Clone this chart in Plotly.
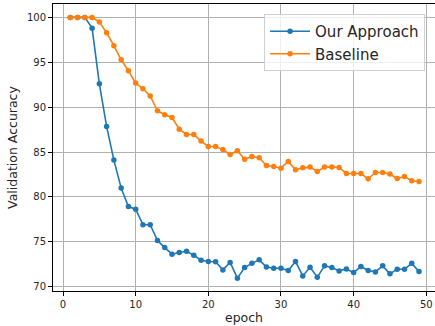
import plotly.graph_objects as go

epochs = list(range(1, 50))
our_approach = [100, 100, 100, 98.8, 92.6, 87.85, 84.1, 81.0, 78.93, 78.64,
                76.9, 76.9, 75.14, 74.36, 73.62, 73.8, 73.95, 73.5, 72.95, 72.8,
                72.77, 71.87, 72.7, 70.95, 72.13, 72.6, 72.99, 72.2, 72.06, 72.06,
                71.8, 72.8, 71.2, 72.17, 71.06, 72.32, 72.13, 71.76, 71.98, 71.57,
                72.24, 71.8, 71.65, 72.32, 71.43, 71.95, 71.95, 72.6, 71.68]
baseline = [100, 100, 100, 100, 99.48, 98.3, 96.85, 95.28, 94.06, 92.68,
            92.05, 91.24, 89.6, 89.15, 88.85, 87.55, 86.96, 86.96, 86.22, 85.62,
            85.62, 85.27, 84.73, 85.15, 84.19, 84.5, 84.36, 83.5, 83.39, 83.2,
            83.95, 83.02, 83.24, 83.32, 82.83, 83.32, 83.32, 83.28, 82.61, 82.61,
            82.61, 82.02, 82.72, 82.72, 82.54, 82.05, 82.27, 81.8, 81.72]
series_names = ["Our Approach", "Baseline"]
x_ticks = [0, 10, 20, 30, 40, 50]
y_ticks = [70, 75, 80, 85, 90, 95, 100]

colors = ["#1f77b4", "#ff7f0e"]

fig = go.Figure()
for name, vals, col in zip(series_names, [our_approach, baseline], colors):
    fig.add_trace(go.Scatter(
        x=epochs, y=vals, name=name, mode="lines+markers",
        line=dict(color=col, width=1.6),
        marker=dict(color=col, size=5.5),
        legendgroup=name,
    ))

font = "DejaVu Sans, sans-serif"
fig.update_layout(
    width=435, height=326,
    margin=dict(l=53, r=0, t=4, b=35),
    paper_bgcolor="white", plot_bgcolor="white",
    font=dict(family=font, size=10, color="#262626"),
    legend=dict(
        x=0.974, y=0.965, xanchor="right", yanchor="top",
        font=dict(size=15, color="#262626"),
        bgcolor="rgba(255,255,255,0.8)",
        bordercolor="#d0d0d0", borderwidth=1,
        tracegroupgap=0,
        itemwidth=40,
    ),
    showlegend=True,
)
fig.update_xaxes(
    range=[-1.38, 51.2], tickvals=x_ticks, automargin=False,
    ticklabeloverflow="allow",
    showgrid=True, gridcolor="#b0b0b0", gridwidth=1,
    showline=True, linecolor="black", linewidth=1, mirror=True,
    ticks="outside", ticklen=4, tickcolor="black",
    zeroline=False,
    title=dict(text="epoch", font=dict(size=12.5), standoff=4),
    tickfont=dict(size=10),
)
fig.update_yaxes(
    range=[69.52, 101.49], tickvals=y_ticks, automargin=False,
    showgrid=True, gridcolor="#b0b0b0", gridwidth=1,
    showline=True, linecolor="black", linewidth=1,
    ticks="outside", ticklen=4, tickcolor="black",
    zeroline=False,
    title=dict(text="Validation Accuracy", font=dict(size=12.5), standoff=6),
    tickfont=dict(size=10),
)

fig.write_html("out.html", config={"displayModeBar": False},
               post_script="document.body.style.margin='0';document.body.style.overflow='hidden';")
